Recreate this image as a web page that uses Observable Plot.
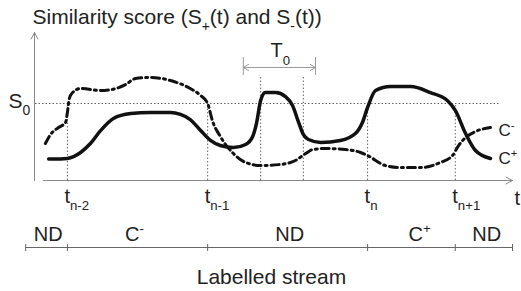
<!DOCTYPE html>
<html><head><meta charset="utf-8">
<script src="https://cdn.jsdelivr.net/npm/d3@7"></script>
<script src="https://cdn.jsdelivr.net/npm/@observablehq/plot@0.6"></script>
<style>body{margin:0;background:#fff;} svg{display:block;}</style>
</head><body><div id="chart"></div>
<script>
// ---- data ----
const plusTime = [1.1,3.6,5.1,7.9,10.0,12.2,14.9,18.6,22.8,27.1,29.2,31.3,33.5,35.6,37.7,40.5,43.1,44.6,45.4,46.3,47.3,49.5,51.6,53.1,54.4,55.4,56.5,59.1,63.3,66.5,68.0,69.1,70.8,74.0,78.3,82.5,86.1,87.8,90.0,92.1,95.3];
const plusScore = [.14,.14,.143,.182,.24,.325,.403,.435,.442,.442,.429,.396,.325,.26,.227,.214,.234,.286,.37,.519,.571,.571,.545,.487,.377,.299,.266,.247,.26,.305,.377,.474,.584,.61,.61,.571,.519,.455,.305,.195,.143];
const minusTime = [0.4,1.5,3.2,4.7,5.1,5.5,6.2,7.9,12.2,15.4,17.5,19.6,22.8,27.1,31.3,33.5,35.0,36.0,37.7,40.5,43.1,46.3,50.5,53.7,55.9,57.4,60.1,64.4,67.6,69.1,72.9,76.1,80.4,84.6,87.2,88.5,90.0,92.1,95.3];
const minusScore = [.24,.299,.344,.377,.442,.532,.571,.597,.584,.597,.623,.662,.669,.649,.597,.552,.5,.39,.286,.175,.117,.097,.104,.13,.175,.201,.208,.201,.182,.162,.097,.084,.084,.117,.162,.227,.279,.318,.344];
const tickTimes = [5.1, 35.0, 69.1, 87.8];
const tickLabels = ["t_{n-2}", "t_{n-1}", "t_{n}", "t_{n+1}"];
const windowTimes = [46.3, 55.4];
const windowScores = [0.68, 0.67];
const t0Span = [42.6, 58.0];
const s0 = 0.5;
const streamBounds = [-3.8, 5.1, 35.0, 69.1, 87.8, 100];
const streamLabels = ["ND", "C^{-}", "ND", "C^{+}", "ND"];
const streamLabelTimes = [1.0, 19.4, 52.5, 80.2, 94.5];
const curveLabels = ["C^{-}", "C^{+}"];
const curveLabelScores = [0.292, 0.110];
const titleText = "Similarity score (S_{+}(t) and S_{-}(t))";
const streamTitle = "Labelled stream";

// ---- build ----
const plus = plusTime.map((t, i) => ({t, s: plusScore[i]}));
const minus = minusTime.map((t, i) => ({t, s: minusScore[i]}));
const win = windowTimes.map((t, i) => ({t, s: windowScores[i]}));
const ink = "#222";
const dot = {stroke: "#666", strokeWidth: 1, strokeDasharray: "1.5,2"};
const t0Mid = (t0Span[0] + t0Span[1]) / 2;

const svg = Plot.plot({
  width: 521, height: 291,
  x: {domain: [0, 100], range: [43, 512], axis: null},
  y: {domain: [0, 1], range: [180, 26], axis: null},
  style: {fontFamily: "'Liberation Sans', Arial, sans-serif", background: "#fff", overflow: "visible"},
  marks: [
    Plot.ruleY([s0], {x1: -1.7, x2: 97.4, ...dot}),
    Plot.ruleX(tickTimes, {x: d => d, y1: 0, y2: s0, ...dot}),
    Plot.ruleX(win, {x: "t", y1: 0, y2: "s", ...dot}),
    Plot.arrow([0], {x1: -1.92, x2: -1.92, y1: 0, y2: 0.961, stroke: "#888", strokeWidth: 1, headLength: 11, headAngle: 55}),
    Plot.arrow([0], {x1: 0, x2: 100, y1: 0, y2: 0, stroke: "#888", strokeWidth: 1, headLength: 11, headAngle: 55}),
    Plot.line(minus, {x: "t", y: "s", curve: "monotone-x", stroke: "#111", strokeWidth: 3, strokeDasharray: "8,4,2,4"}),
    Plot.line(plus, {x: "t", y: "s", curve: "monotone-x", stroke: "#111", strokeWidth: 3.5}),
    Plot.arrow(t0Span, {x1: t0Mid, x2: d => d, y1: 0.734, y2: 0.734, stroke: "#999", strokeWidth: 1, headLength: 9, headAngle: 60}),
    Plot.ruleX(t0Span, {x: d => d, y1: 0.682, y2: 0.799, stroke: "#999", strokeWidth: 1}),
    Plot.text(["T_{0}"], {x: 50.5, y: 0.799, text: d => d, lineAnchor: "bottom", fontSize: 20, fill: ink}),
    Plot.text(["S_{0}"], {x: -7.46, y: 0.474, text: d => d, textAnchor: "start", lineAnchor: "bottom", fontSize: 21, fill: ink}),
    Plot.text(tickTimes, {x: d => d, y: -0.143, text: (d, i) => tickLabels[i], textAnchor: "start", dx: -3, lineAnchor: "bottom", fontSize: 20, fill: ink}),
    Plot.text(["t"], {x: 100.4, y: -0.162, text: d => d, textAnchor: "start", lineAnchor: "bottom", fontSize: 20, fill: ink}),
    Plot.text(curveLabels, {x: 97.0, y: (d, i) => curveLabelScores[i], text: d => d, textAnchor: "start", lineAnchor: "bottom", fontSize: 17, fill: ink}),
    Plot.ruleY([-0.435], {x1: streamBounds[0], x2: streamBounds[streamBounds.length - 1], stroke: "#666", strokeWidth: 1}),
    Plot.ruleX(streamBounds, {x: d => d, y1: -0.416, y2: -0.461, stroke: "#666", strokeWidth: 1}),
    Plot.text(streamLabels, {x: (d, i) => streamLabelTimes[i], y: -0.396, text: d => d, lineAnchor: "bottom", fontSize: 20, fill: ink}),
    Plot.text([streamTitle], {x: 48.6, y: -0.675, text: d => d, lineAnchor: "bottom", fontSize: 21, fill: ink}),
    Plot.text([titleText], {x: -2.35, y: 1.019, text: d => d, textAnchor: "start", lineAnchor: "bottom", fontSize: 21, fill: ink})
  ]
});
document.getElementById("chart").append(svg);

// rich text: _{..} subscripts, ^{..} superscripts
const NS = "http://www.w3.org/2000/svg";
svg.querySelectorAll("text").forEach(el => {
  const str = el.textContent;
  if (!/[_^]\{/.test(str)) return;
  const fs = parseFloat(getComputedStyle(el).fontSize) || 20;
  const parts = str.split(/([_^]\{[^}]*\})/).filter(p => p);
  el.textContent = "";
  let shift = 0;
  for (const p of parts) {
    const ts = document.createElementNS(NS, "tspan");
    let target = 0, txt = p, small = false;
    if (p.startsWith("_{")) { target = 0.36 * fs; txt = p.slice(2, -1); small = true; }
    else if (p.startsWith("^{")) { target = -0.4 * fs; txt = p.slice(2, -1); small = true; }
    if (target - shift !== 0) ts.setAttribute("dy", (target - shift).toFixed(2));
    if (small) ts.setAttribute("font-size", (0.66 * fs).toFixed(1));
    shift = target;
    ts.textContent = txt;
    el.appendChild(ts);
  }
});
</script>
</body></html>
